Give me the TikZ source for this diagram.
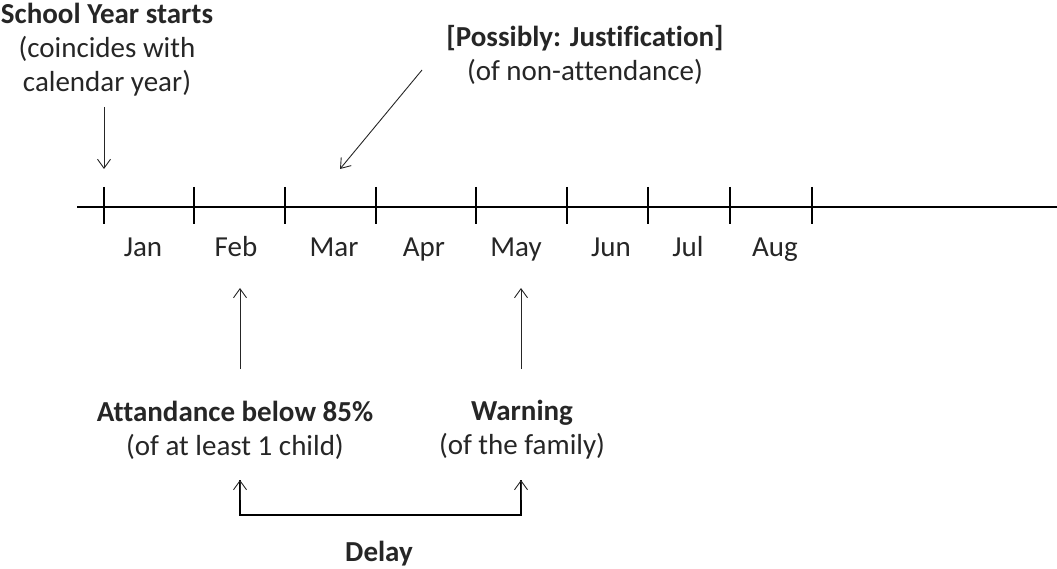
\documentclass[tikz,border=0pt]{standalone}
\usepackage{fontspec}
\setmainfont{Carlito}[Ligatures=NoCommon]
\usetikzlibrary{arrows.meta}
\begin{document}
\begin{tikzpicture}[x=1pt,y=-1pt,
  lbl/.style={font=\fontsize{29}{34}\selectfont, inner sep=0pt, align=center, text=black!85},
  month/.style={font=\fontsize{29}{34}\selectfont, inner sep=0pt, text=black!85, anchor=base},
  axisline/.style={line width=2.5pt, black},
  tick/.style={line width=2.5pt, black},
  thinarrow/.style={line width=0.9pt, black!85, -{Straight Barb[length=9pt,width=13pt]}},
  bracketline/.style={line width=1.4pt, black}]
\useasboundingbox (0,0) rectangle (1057,569);
% axis
\draw[axisline] (77,207) -- (1057,207);
\foreach \x in {104,194,285,376,476,567,648,730,812}
  \draw[tick] (\x,187) -- (\x,224);
% months
\node[month] (jan) at (143,257) {Jan};
\node[month] (feb) at (236,257) {Feb};
\node[month] (mar) at (334,257) {Mar};
\node[month] (apr) at (424,257) {Apr};
\node[month] (may) at (516,257) {May};
\node[month] (jun) at (611,257) {Jun};
\node[month] (jul) at (688,257) {Jul};
\node[month] (aug) at (775,257) {Aug};
% top labels
\node[lbl] (school) at (107,50) {\textbf{School Year starts}\\(coincides with\\calendar year)};
\node[lbl] (just) at (585,55) {\textbf{[Possibly: Justification]}\\(of non-attendance)};
% bottom labels
\node[lbl] (att) at (235,430) {\textbf{Attandance below 85\%}\\(of at least 1 child)};
\node[lbl] (warn) at (522,430) {\textbf{Warning}\\(of the family)};
\node[lbl, anchor=base] (delay) at (379,561) {\textbf{Delay}};
% arrows
\coordinate (s1) at (104,107);
\coordinate (e1) at (104,169);
\draw[thinarrow] (s1) -- (e1);
\coordinate (s2) at (422,70);
\coordinate (e2) at (340,169);
\draw[thinarrow] (s2) -- (e2);
\coordinate (s3) at (240,369);
\coordinate (e3) at (240,288);
\draw[thinarrow] (s3) -- (e3);
\coordinate (s4) at (521,369);
\coordinate (e4) at (521,288);
\draw[thinarrow] (s4) -- (e4);
% delay bracket
\coordinate (bl) at (240,480);
\coordinate (br) at (521,480);
\draw[bracketline] (bl) -- (240,515) -- (521,515) -- (br);
\draw[thinarrow] (240,500) -- (bl);
\draw[thinarrow] (521,500) -- (br);
\end{tikzpicture}
\end{document}
